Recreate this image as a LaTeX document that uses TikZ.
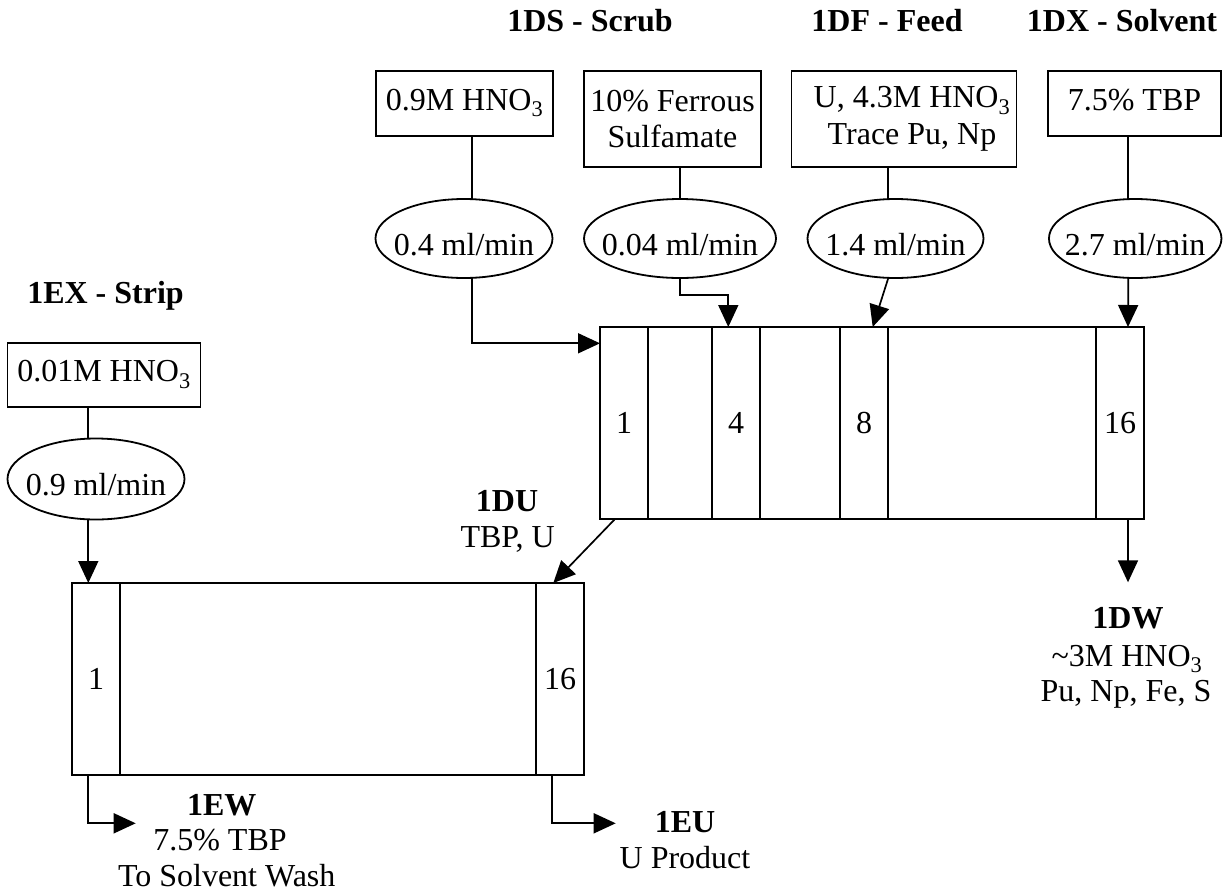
\documentclass[tikz,border=0pt]{standalone}
\usepackage{fontspec}
\setmainfont{Liberation Serif}
\usetikzlibrary{arrows.meta,shapes.geometric}
\begin{document}
\begin{tikzpicture}[x=1pt,y=-1pt,
  every node/.style={font=\fontsize{32}{36.7}\selectfont, inner sep=0pt, outer sep=0pt},
  ttl/.style={font=\fontsize{32}{36.7}\selectfont\bfseries, anchor=base},
  lbl/.style={anchor=base},
  feedbox/.style={draw, line width=1.8pt, rectangle, align=center},
  onebox/.style={feedbox, minimum height=65pt, text height=21pt, text depth=8pt},
  twobox/.style={feedbox, minimum height=96pt},
  flowell/.style={draw, line width=1.8pt, ellipse, minimum height=79pt, text height=33pt, text depth=0pt},
  tank/.style={draw, line width=1.5pt, rectangle, minimum height=192pt},
  cell/.style={draw, line width=2.1pt, rectangle, minimum width=48pt, minimum height=192pt},
  conn/.style={line width=1.7pt},
  arr/.style={conn, -{Triangle[length=22pt,width=20pt]}}
]
\useasboundingbox (0,0) rectangle (1223,892);

% titles
\node[ttl] (tDS) at (590,31.7) {1DS - Scrub};
\node[ttl] (tDF) at (887,31.7) {1DF - Feed};
\node[ttl] (tDX) at (1122,31.7) {1DX - Solvent};
\node[ttl] (tEX) at (105.5,303.3) {1EX - Strip};

% feed boxes
\node[onebox, minimum width=177pt] (bS1) at (464.5,103.5) {0.9M HNO\textsubscript{3}};
\node[twobox, minimum width=177pt] (bS2) at (672.5,119) {10\% Ferrous\\Sulfamate};
\node[twobox, minimum width=225pt] (bF) at (904,119) {\hspace*{16pt}U, 4.3M HNO\textsubscript{3}\\\hspace*{16pt}Trace Pu, Np};
\node[onebox, minimum width=173pt] (bX) at (1134.5,103.5) {7.5\% TBP};
\node[onebox, minimum width=193pt, minimum height=64pt] (bE) at (104,375.3) {0.01M HNO\textsubscript{3}};

% flow ellipses
\node[flowell, minimum width=177pt] (eS1) at (464,238.5) {\makebox[0pt]{0.4 ml/min}};
\node[flowell, minimum width=192pt] (eS2) at (680,238.5) {\makebox[0pt]{0.04 ml/min}};
\node[flowell, minimum width=176pt] (eF) at (895.5,238.5) {\makebox[0pt]{1.4 ml/min}};
\node[flowell, minimum width=172.5pt] (eX) at (1135.2,238.5) {\makebox[0pt]{2.7 ml/min}};
\node[flowell, minimum width=177pt, minimum height=81pt] (eE) at (96,479) {\makebox[0pt]{0.9 ml/min}};

% tank D
\node[tank, minimum width=544pt] (tankD) at (872,423) {};
\node[cell] (D1) at (624,423) {1};
\node[cell] (D4) at (736,423) {4};
\node[cell] (D8) at (864,423) {8};
\node[cell] (D16) at (1120,423) {16};

% tank E
\node[tank, minimum width=512pt] (tankE) at (328,679) {};
\node[cell] (E1) at (96,679) {1};
\node[cell] (E16) at (560,679) {16};

% output labels
\node[lbl, font=\fontsize{32}{36.7}\selectfont\bfseries] (DU1) at (507,511.7) {1DU};
\node[lbl] (DU2) at (507.7,547.3) {TBP, U};
\node[lbl, font=\fontsize{32}{36.7}\selectfont\bfseries] (DW1) at (1128,628.3) {1DW};
\node[lbl] (DW2) at (1127,666.7) {\textasciitilde3M HNO\textsubscript{3}};
\node[lbl] (DW3) at (1126,701.7) {Pu, Np, Fe, S};
\node[lbl, font=\fontsize{32}{36.7}\selectfont\bfseries] (EW1) at (221.7,815) {1EW};
\node[lbl] (EW2) at (220,850) {7.5\% TBP};
\node[lbl] (EW3) at (226.7,886.7) {To Solvent Wash};
\node[lbl, font=\fontsize{32}{36.7}\selectfont\bfseries] (EU1) at (685,832) {1EU};
\node[lbl] (EU2) at (685,868) {U Product};

\coordinate (cDW) at (1128,582.3);
\coordinate (cEW) at (135.7,823.3);
\coordinate (cEU) at (615.7,823.3);

% connectors: boxes to ellipses
\draw[conn] ([xshift=7.5pt]bS1.south) -- ([xshift=8pt]eS1.north);
\draw[conn] ([xshift=7.5pt]bS2.south) -- (eS2.north);
\draw[conn] ([xshift=-15.7pt]bF.south) -- ([xshift=-7.2pt]eF.north);
\draw[conn] ([xshift=-6.2pt]bX.south) -- ([xshift=-6.9pt]eX.north);
\draw[conn] ([xshift=-15.7pt]bE.south) -- ([xshift=-7.7pt]eE.north);

% ellipses to tanks
\draw[arr] ([xshift=8pt]eS1.south) |- ([yshift=79.7pt]D1.west);
\draw[arr] (eS2.south) -- ++(0,17) -| ([xshift=-7.7pt]D4.north);
\draw[arr] ([xshift=-7.2pt]eF.south) -- ([xshift=8.7pt]D8.north);
\draw[arr] ([xshift=-6.9pt]eX.south) -- ([xshift=8pt]D16.north);
\draw[arr] ([xshift=-7.7pt]eE.south) -- ([xshift=-7.7pt]E1.north);

% tank outputs
\draw[arr] ([xshift=-9pt]D1.south) -- ([xshift=-6.7pt]E16.north);
\draw[arr] ([xshift=8pt]D16.south) -- (cDW);
\draw[arr] ([xshift=-7.7pt]E1.south) |- (cEW);
\draw[arr] ([xshift=-7.7pt]E16.south) |- (cEU);
\end{tikzpicture}
\end{document}
